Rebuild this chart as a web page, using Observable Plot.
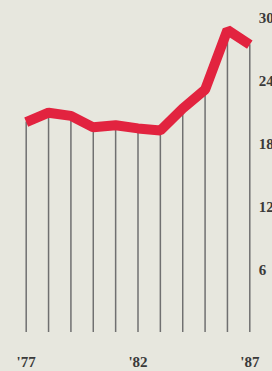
<!DOCTYPE html>
<html>
<head>
<meta charset="utf-8">
<script src="https://cdn.jsdelivr.net/npm/d3@7"></script>
<script src="https://cdn.jsdelivr.net/npm/@observablehq/plot@0.6"></script>
<style>
  html, body { margin: 0; padding: 0; background: #e7e7de; }
  #chart svg { display: block; }
</style>
</head>
<body>
<div id="chart"></div>
<script>
const years = [1977, 1978, 1979, 1980, 1981, 1982, 1983, 1984, 1985, 1986, 1987];
const values = [20.1, 21.0, 20.7, 19.6, 19.8, 19.5, 19.3, 21.4, 23.2, 28.9, 27.5];
const xTicks = [1977, 1982, 1987];
const xTickLabels = ["'77", "'82", "'87"];
const yTicks = [6, 12, 18, 24, 30];

const data = years.map((year, i) => ({year, value: values[i]}));

const chart = Plot.plot({
  width: 272,
  height: 371,
  marginLeft: 25.7,
  marginRight: 22.7,
  marginTop: 18,
  marginBottom: 39,
  style: {background: "transparent", fontFamily: "Liberation Serif, serif", fontSize: "15px", fontWeight: "bold", color: "#3a3a3a"},
  x: {domain: [1977, 1987]},
  y: {domain: [0, 30]},
  marks: [
    Plot.ruleX(data, {x: "year", y1: 0, y2: "value", stroke: "#707070", strokeWidth: 1.5}),
    Plot.line(data, {x: "year", y: "value", stroke: "#e2233f", strokeWidth: 10, strokeLinejoin: "miter", strokeLinecap: "butt"}),
    Plot.axisX({ticks: xTicks, tickFormat: d => xTickLabels[xTicks.indexOf(d)], tickSize: 0, tickPadding: 24, label: null, fontSize: 15}),
    Plot.axisY({anchor: "right", ticks: yTicks, tickSize: 0, tickPadding: 9, label: null, fontSize: 15, textAnchor: "start"})
  ]
});
document.getElementById("chart").appendChild(chart);
</script>
</body>
</html>
